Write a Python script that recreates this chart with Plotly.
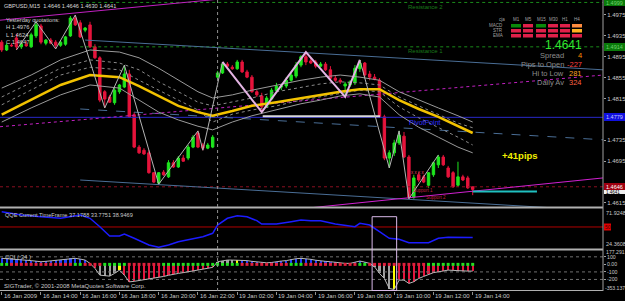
import plotly.graph_objects as go

# ---------------- data ----------------
bar_idx = list(range(97))

opens = [1.4923, 1.4908, 1.4917, 1.4931, 1.4914, 1.4919, 1.4914, 1.4935, 1.4954, 1.4921,
         1.4927, 1.4923, 1.4917, 1.4919, 1.4935, 1.4969, 1.4960, 1.4946, 1.4956, 1.4914,
         1.4893, 1.4828, 1.4818, 1.4807, 1.4828, 1.4837, 1.4862, 1.4784, 1.4722, 1.4716,
         1.4711, 1.4673, 1.4653, 1.4674, 1.4665, 1.4692, 1.4684, 1.4701, 1.4701, 1.4722,
         1.4749, 1.4726, 1.4720, 1.4722, 1.4856, 1.4864, 1.4881, 1.4875, 1.4872, 1.4885,
         1.4866, 1.4856, 1.4828, 1.4820, 1.4799, 1.4814, 1.4830, 1.4837, 1.4839, 1.4850,
         1.4858, 1.4879, 1.4895, 1.4887, 1.4885, 1.4877, 1.4881, 1.4870, 1.4854, 1.4850,
         1.4839, 1.4841, 1.4845, 1.4872, 1.4883, 1.4862, 1.4856, 1.4850, 1.4780, 1.4701,
         1.4711, 1.4730, 1.4743, 1.4703, 1.4626, 1.4669, 1.4665, 1.4649, 1.4669, 1.4688,
         1.4703, 1.4682, 1.4673, 1.4649, 1.4665, 1.4663, 1.4646]
highs = [1.4927, 1.4921, 1.4921, 1.4939, 1.4923, 1.4925, 1.4941, 1.4962, 1.4958, 1.4929,
         1.4931, 1.4927, 1.4927, 1.4935, 1.4973, 1.4975, 1.4965, 1.4952, 1.4962, 1.4919,
         1.4896, 1.4831, 1.4822, 1.4835, 1.4843, 1.4879, 1.4870, 1.4789, 1.4726, 1.4720,
         1.4716, 1.4674, 1.4674, 1.4678, 1.4697, 1.4697, 1.4705, 1.4707, 1.4726, 1.4745,
         1.4753, 1.4730, 1.4730, 1.4745, 1.4868, 1.4885, 1.4885, 1.4879, 1.4889, 1.4889,
         1.4870, 1.4860, 1.4831, 1.4826, 1.4820, 1.4835, 1.4845, 1.4843, 1.4856, 1.4864,
         1.4885, 1.4898, 1.4904, 1.4893, 1.4889, 1.4885, 1.4885, 1.4877, 1.4860, 1.4854,
         1.4847, 1.4850, 1.4879, 1.4889, 1.4885, 1.4868, 1.4862, 1.4854, 1.4784, 1.4716,
         1.4736, 1.4753, 1.4751, 1.4707, 1.4669, 1.4674, 1.4669, 1.4674, 1.4694, 1.4707,
         1.4707, 1.4686, 1.4676, 1.4694, 1.4669, 1.4667, 1.4646]
lows = [1.4904, 1.4906, 1.4914, 1.4908, 1.4910, 1.4914, 1.4912, 1.4931, 1.4919, 1.4917,
        1.4919, 1.4910, 1.4914, 1.4916, 1.4933, 1.4954, 1.4931, 1.4942, 1.4912, 1.4891,
        1.4808, 1.4797, 1.4807, 1.4803, 1.4824, 1.4835, 1.4778, 1.4720, 1.4709, 1.4707,
        1.4671, 1.4653, 1.4651, 1.4667, 1.4663, 1.4682, 1.4682, 1.4694, 1.4697, 1.4720,
        1.4720, 1.4716, 1.4718, 1.4720, 1.4852, 1.4862, 1.4875, 1.4870, 1.4870, 1.4864,
        1.4854, 1.4826, 1.4818, 1.4789, 1.4797, 1.4812, 1.4826, 1.4831, 1.4835, 1.4847,
        1.4854, 1.4875, 1.4879, 1.4881, 1.4873, 1.4875, 1.4868, 1.4852, 1.4847, 1.4843,
        1.4818, 1.4837, 1.4841, 1.4866, 1.4856, 1.4850, 1.4850, 1.4778, 1.4697, 1.4682,
        1.4705, 1.4726, 1.4701, 1.4623, 1.4623, 1.4655, 1.4653, 1.4644, 1.4665, 1.4682,
        1.4686, 1.4663, 1.4644, 1.4646, 1.4657, 1.4642, 1.4630]
closes = [1.4908, 1.4917, 1.4916, 1.4914, 1.4919, 1.4916, 1.4937, 1.4956, 1.4923, 1.4927,
          1.4921, 1.4917, 1.4923, 1.4933, 1.4969, 1.4956, 1.4933, 1.4950, 1.4914, 1.4893,
          1.4812, 1.4814, 1.4808, 1.4831, 1.4841, 1.4862, 1.4780, 1.4722, 1.4711, 1.4709,
          1.4673, 1.4655, 1.4673, 1.4669, 1.4692, 1.4684, 1.4701, 1.4695, 1.4722, 1.4741,
          1.4722, 1.4720, 1.4726, 1.4741, 1.4864, 1.4881, 1.4877, 1.4872, 1.4885, 1.4866,
          1.4856, 1.4828, 1.4822, 1.4799, 1.4816, 1.4831, 1.4839, 1.4839, 1.4850, 1.4860,
          1.4879, 1.4895, 1.4885, 1.4883, 1.4877, 1.4881, 1.4870, 1.4854, 1.4850, 1.4847,
          1.4843, 1.4847, 1.4873, 1.4883, 1.4860, 1.4856, 1.4852, 1.4780, 1.4701, 1.4711,
          1.4730, 1.4745, 1.4703, 1.4626, 1.4663, 1.4659, 1.4655, 1.4673, 1.4692, 1.4703,
          1.4688, 1.4665, 1.4646, 1.4665, 1.4659, 1.4644, 1.4641]

# moving average and bands (read at sample bars)
ma_idx = [0, 6, 12, 18, 24, 28, 32, 36, 40, 43, 47, 51, 56, 61, 65, 69, 73, 77, 81, 85, 89, 93, 96]
ma_yellow = [1.4784, 1.4812, 1.4841, 1.4860, 1.4856, 1.4839, 1.4820, 1.4801, 1.4789, 1.4782, 1.4791, 1.4801,
             1.4808, 1.4816, 1.4822, 1.4828, 1.4833, 1.4833, 1.4812, 1.4795, 1.4780, 1.4762, 1.4749]
band_up2 = [1.4835, 1.4860, 1.4889, 1.4908, 1.4904, 1.4893, 1.4873, 1.4850, 1.4828, 1.4816, 1.4822, 1.4831,
            1.4841, 1.4850, 1.4856, 1.4860, 1.4856, 1.4850, 1.4828, 1.4812, 1.4797, 1.4782, 1.4770]
band_up1 = [1.4818, 1.4845, 1.4873, 1.4889, 1.4883, 1.4870, 1.4847, 1.4828, 1.4808, 1.4801, 1.4808, 1.4816,
            1.4828, 1.4837, 1.4843, 1.4847, 1.4845, 1.4841, 1.4818, 1.4801, 1.4785, 1.4768, 1.4759]
band_lo1 = [1.4803, 1.4831, 1.4860, 1.4875, 1.4870, 1.4850, 1.4831, 1.4812, 1.4793, 1.4770, 1.4785, 1.4793,
            1.4801, 1.4812, 1.4818, 1.4824, 1.4831, 1.4828, 1.4799, 1.4778, 1.4760, 1.4741, 1.4726]
band_lo2 = [1.4770, 1.4797, 1.4822, 1.4841, 1.4835, 1.4812, 1.4789, 1.4774, 1.4762, 1.4755, 1.4770, 1.4782,
            1.4793, 1.4805, 1.4812, 1.4820, 1.4824, 1.4818, 1.4784, 1.4760, 1.4741, 1.4722, 1.4711]

# zigzags
zz1_idx = [3, 7, 11, 15, 21, 25, 32, 40, 41, 45]
zz1_p = [1.4908, 1.4962, 1.4910, 1.4975, 1.4797, 1.4879, 1.4651, 1.4753, 1.4716, 1.4885]
zz2_idx = [45, 53, 62, 70, 73]
zz2_p = [1.4885, 1.4789, 1.4904, 1.4818, 1.4889]
zz3_idx = [73, 79, 81, 83, 89]
zz3_p = [1.4889, 1.4682, 1.4753, 1.4623, 1.4707]

# trend lines (bar index, price)
mag_top_i, mag_top_p = [-0.35, 45.0], [1.4965, 1.5006]
mag_mid_i, mag_mid_p = [-0.35, 122.6], [1.4761, 1.4860]
mag_low_i, mag_low_p = [60.0, 122.6], [1.4603, 1.4663]
blu_top_i, blu_top_p = [17.0, 122.6], [1.4927, 1.4870]
blu_mid_i, blu_mid_p = [16.0, 122.6], [1.4795, 1.4736]
blu_low_i, blu_low_p = [16.0, 122.6], [1.4659, 1.4600]

# levels
res2 = 1.4999
res1 = 1.4914
pivot = 1.4779
white_lvl, white_i = 1.4781, [53.2, 77.1]
sup_lvl = 1.4646
cyan_lvl, cyan_i = 1.4637, [96.0, 109.1]

price_ticks = [1.4975, 1.4935, 1.4895, 1.4855, 1.4815, 1.4735, 1.4695, 1.4615]
time_tick_idx = [0, 8, 16, 24, 32, 40, 48, 56, 64, 72, 80, 88, 96]
time_tick_lbl = ["16 Jan 2009", "16 Jan 14:00", "16 Jan 16:00", "16 Jan 18:00", "16 Jan 20:00",
                 "16 Jan 22:00", "19 Jan 02:00", "19 Jan 04:00", "19 Jan 06:00", "19 Jan 08:00",
                 "19 Jan 10:00", "19 Jan 12:00", "19 Jan 14:00"]

# QQE
qqe_idx = [0, 4, 8, 12, 16, 18, 20, 22, 24, 25, 27, 30, 32, 34, 36, 39, 41, 43, 44, 46,
           48, 50, 52, 53, 56, 59, 61, 63, 65, 68, 72, 73, 75, 77, 79, 81, 83, 87, 89, 91, 96]
qqe_val = [68.6, 64.6, 62.5, 60.6, 64.6, 60.6, 50.3, 39.0, 39.0, 41.4, 36.2, 28.0, 25.2, 28.0, 32.0, 36.2,
           38.1, 42.3, 52.4, 60.6, 63.7, 62.5, 57.7, 53.6, 53.6, 56.4, 58.5, 57.7, 57.7, 53.6, 50.3, 54.5,
           52.4, 44.2, 36.2, 35.0, 30.8, 30.8, 36.2, 37.4, 37.2]
qqe_max, qqe_min, qqe_level = 71.9248, 24.3608, 50

# CCI(34)
cci_val = [80, 75, 70, 68, 67, 60, 50, 42, 35, 40, 48, 55, 57, 65, 78, 80, 70, 57, 13, -53,
           -143, -150, -156, -120, -76, -143, -232, -225, -215, -209, -195, -185, -173, -160, -145, -129,
           -120, -110, -99, -90, -76, -65, -53, -40, 35, 50, 57, 57, 57, 57, 50, 40, 35, 25, 21, 25, 30,
           44, 50, 67, 75, 80, 75, 67, 55, 44, 40, 35, 25, 13, 13, 13, 30, 44, 30, 13, -32, -120, -187,
           -320, -333, -209, -209, -253, -230, -187, -160, -130, -110, -99, -85, -76, -80, -85, -89, -89, -89]
cci_state = ("bbbbbbbbbbbbbbbbbb" "rr" "gggg" "y" "rrrrrrrrrrrrrrrrrrr" "gggg" "y"
             "bbbbbbbbbbbbbbbbbbbbbbbbbbb" "gggg" "y" "rrrrrrrrrrrrrrrr")
dot_state = ("gg" "rrrrrrrrrrrrr" "gg" "rrrr" "ggggg" "rrrrrrr" "gggggggggggggggg"
             "rrrrrrrrrr" "ggg" "rrrrrrrrrrr" "gg" "rrrrrrrrrrrr" "gggggggggg")
cci_max, cci_min = 177.291, -353.137
cci_levels = [100, -100, -200]

# info panel
tf_labels = ["M1", "M5", "M15", "M30", "H1", "H4"]
sig_rows = ["MACD", "STR", "EMA"]
sig_states = [["g", "r", "g", "r", "r", "o"], ["r", "r", "r", "r", "r", "y"], ["r", "r", "r", "r", "r", "r"]]

# ---------------- figure ----------------
W, H = 625, 301
def X(px): return px / W
def Y(py): return 1 - py / H

BULL, BEAR = "#1ee61e", "#e6143c"
FONT = "Liberation Sans"
TXT = "#c8c8c8"

fig = go.Figure()
fig.add_trace(go.Candlestick(x=bar_idx, open=opens, high=highs, low=lows, close=closes,
                             increasing=dict(line=dict(color=BULL, width=1), fillcolor=BULL),
                             decreasing=dict(line=dict(color=BEAR, width=1), fillcolor=BEAR),
                             whiskerwidth=0, hoverinfo="skip", showlegend=False))

def line(xs, ys, color, width=1, dash="solid", yaxis="y"):
    fig.add_trace(go.Scatter(x=xs, y=ys, mode="lines", line=dict(color=color, width=width, dash=dash),
                             hoverinfo="skip", showlegend=False, yaxis=yaxis))

# levels & trend lines
line([16, 122.6], [res2, res2], "#1a8a1a", 1, "dot")
line([16, 122.6], [res1, res1], "#1a8a1a", 1, "dot")
line([-0.35, 122.6], [sup_lvl, sup_lvl], "#8b1020", 1, "dot")
line([-0.35, 122.6], [pivot, pivot], "#2828c8", 1)
line(white_i, [white_lvl, white_lvl], "#d8d8d8", 2)
line(blu_top_i, blu_top_p, "#4a6e96", 1)
line(blu_mid_i, blu_mid_p, "#4a6e96", 1, "dash")
line(blu_low_i, blu_low_p, "#4a6e96", 1)
line(mag_top_i, mag_top_p, "#c020c0", 1)
line(mag_mid_i, mag_mid_p, "#c020c0", 1, "dot")
line(mag_low_i, mag_low_p, "#d020d0", 1)
line(cyan_i, [cyan_lvl, cyan_lvl], "#20c0c0", 2)

# bands + MA
line(ma_idx, band_up2, "#9a9a9a", 1)
line(ma_idx, band_up1, "#8a8a8a", 1, "dot")
line(ma_idx, band_lo1, "#8a8a8a", 1, "dot")
line(ma_idx, band_lo2, "#9a9a9a", 1)
line(ma_idx, ma_yellow, "#f2c200", 2.5)

# zigzags
line(zz1_idx, zz1_p, "#b4b4b4", 1)
line(zz2_idx, zz2_p, "#e4b4e4", 2)
line(zz3_idx, zz3_p, "#b4b4b4", 1)

# QQE
line([-0.35, 122.6], [qqe_level, qqe_level], "#b00000", 1, yaxis="y2")
line(qqe_idx, qqe_val, "#1c1cff", 1.5, yaxis="y2")

# CCI
cmap = {"b": "#2040ff", "r": BEAR, "g": "#a0a0a0", "y": "#ffff00"}
for lv in cci_levels:
    line([-0.35, 122.6], [lv, lv], "#707070", 1, "dot", yaxis="y3")
fig.add_trace(go.Bar(x=bar_idx, y=cci_val, width=0.45, marker=dict(color=[cmap[c] for c in cci_state], line=dict(width=0)),
                     yaxis="y3", hoverinfo="skip", showlegend=False))
line(bar_idx, cci_val, "#b8b8b8", 1, yaxis="y3")
dmap = {"g": "#20e020", "r": "#e0203c"}
fig.add_trace(go.Scatter(x=bar_idx, y=[0] * len(bar_idx), mode="markers", yaxis="y3",
                         marker=dict(symbol="square", size=3, color=[dmap[c] for c in dot_state], line=dict(width=0)),
                         hoverinfo="skip", showlegend=False))

shapes = []
anns = []

def text(px, py, s, color=TXT, size=6, xa="left", ya="middle", bold=False):
    anns.append(dict(x=X(px), y=Y(py), xref="paper", yref="paper", text=("<b>%s</b>" % s) if bold else s,
                     showarrow=False, xanchor=xa, yanchor=ya, borderpad=0,
                     font=dict(family=FONT, size=size, color=color)))

def rect(x0, y0, x1, y1, fill):
    shapes.append(dict(type="rect", xref="paper", yref="paper", x0=X(x0), x1=X(x1), y0=Y(y1), y1=Y(y0),
                       fillcolor=fill, line=dict(width=0), layer="above"))

# panel separators / frame
for py, wdt in [(207.5, 2), (249.5, 2), (290.5, 1)]:
    shapes.append(dict(type="line", xref="paper", yref="paper", x0=0, x1=X(603), y0=Y(py), y1=Y(py),
                       line=dict(color="#b0b0b0", width=wdt)))
shapes.append(dict(type="line", xref="paper", yref="paper", x0=X(603), x1=X(603), y0=Y(291), y1=1,
                   line=dict(color="#a0a0a0", width=1)))
shapes.append(dict(type="line", xref="x", yref="paper", x0=44, x1=44, y0=Y(291), y1=1,
                   line=dict(color="#909090", width=1, dash="dot")))
shapes.append(dict(type="rect", xref="x", yref="paper", x0=75.5, x1=80.5, y0=Y(290.5), y1=Y(216.7),
                   line=dict(color="#d8b8e8", width=1)))

# main text
text(3, 6.5, "GBPUSD,M15  1.4646 1.4646 1.4630 1.4641", "#d8d8d8", 5.6)
text(5, 20, "Yesterday quotations:", "#d0d0d0", 5.6)
text(5, 27.5, "H 1.4976", "#d0d0d0", 5.8)
text(5, 35, "L 1.4624", "#d0d0d0", 5.8)
text(5, 42.5, "C 1.4647", "#d0d0d0", 5.8)
text(407, 7, "Resistance 2", "#1a7a1a", 6)
text(407, 51, "Resistance 1", "#1a7a1a", 6)
text(408, 122, "PivotPoint", "#3030ff", 7)
text(519.5, 155, "+41pips", "#f0f000", 9.5, xa="center", bold=True)
text(418, 172.5, "x x x x", "#e04060", 4.5, xa="center")
text(423, 190, "Support 1", "#c02040", 4.5, xa="center")
text(436, 197.5, "Support 2", "#c02040", 4.5, xa="center")

# info panel
text(501.5, 20, "cja", "#a0a0a0", 4.5, xa="center")
box_x = [511, 523, 536, 548, 560, 572]
for k, lbl in enumerate(tf_labels):
    text(box_x[k] + 5, 20, lbl, "#a0a0a0", 4.5, xa="center")
scol = {"g": "#0a8a0a", "r": "#e0204a", "o": "#ff8c40", "y": "#ffb020"}
for r, row in enumerate(sig_rows):
    yy = 24 + 5 * r
    text(504, yy + 1.8, row, "#a0a0a0", 4.5, xa="right")
    for k, st in enumerate(sig_states[r]):
        rect(box_x[k], yy, box_x[k] + 10, yy + 3.5, scol[st])
text(583, 45, "1.4641", "#30e830", 12, xa="right")
stats = [("Spread", "4", "#ff8c00", 55.7), ("Pips to Open", "-227", "#ff4040", 64.3),
         ("Hi to Low", "281", "#ffa020", 73.3), ("Daily Av", "324", "#ff6040", 82.7)]
for lbl, val, col, yy in stats:
    text(565, yy, lbl, "#8c8c8c", 7.5, xa="right")
    text(583, yy, val, col, 7.5, xa="right")

# price-axis boxes
rect(604, 0, 625, 6, "#0a7a0a"); text(605, 3, "1.4999", "#70d070", 5.5)
rect(604, 43, 625, 51, "#0a7a0a"); text(605, 47, "1.4914", "#70d070", 5.5)
rect(604, 113, 625, 121, "#1010e0"); text(605, 117, "1.4779", "#c8c8ff", 5.5)
rect(604, 183, 625, 190, "#a00010"); text(605, 186.5, "1.4646", "#ffffff", 5.5)
rect(604, 190, 625, 194, "#f0f0f0"); text(605, 192, "1.4641", "#000000", 4.5)

# QQE texts
text(4, 215, "QQE Current TimeFrame 37.1788 33.7751 38.9469", TXT, 5.6)
text(604.5, 213, "71.9248", TXT, 5.5)
text(604.5, 244, "24.3608", TXT, 5.5)
rect(604, 223.5, 611, 230.5, "#e00000"); text(607.5, 227, "50", "#400000", 5, xa="center")
# CCI texts
text(4, 257, "CCI ( 34 )", TXT, 6)
text(3, 286, "SIGTrader, © 2001-2008 MetaQuotes Software Corp.", TXT, 6)
text(604.5, 251.8, "177.291", TXT, 5.2)
text(604, 287.5, "-353.137", TXT, 5.1)

# time labels
for i, lbl in zip(time_tick_idx, time_tick_lbl):
    anns.append(dict(x=i, y=Y(296), xref="x", yref="paper", text=lbl, showarrow=False,
                     xanchor="left", yanchor="middle", font=dict(family=FONT, size=6, color=TXT)))

fig.update_layout(
    width=W, height=H, margin=dict(l=0, r=0, t=0, b=0),
    paper_bgcolor="black", plot_bgcolor="black", showlegend=False, bargap=0,
    xaxis=dict(domain=[0, X(603)], range=[-0.35, 122.56], anchor="y3", showgrid=False, zeroline=False,
               tickvals=time_tick_idx, ticks="outside", ticklen=3, tickcolor="#909090", showticklabels=False,
               rangeslider=dict(visible=False), fixedrange=True),
    yaxis=dict(domain=[Y(207), 1], range=[1.46073, 1.50037], side="right", anchor="x", showgrid=False,
               zeroline=False, tickvals=price_ticks, ticktext=["%.4f" % v for v in price_ticks],
               ticks="outside", ticklen=2, tickcolor="#a0a0a0", tickfont=dict(family=FONT, size=6, color=TXT)),
    yaxis2=dict(domain=[Y(248), Y(209)], range=[qqe_min, qqe_max], anchor="x", showgrid=False, zeroline=False,
                showticklabels=False),
    yaxis3=dict(domain=[Y(291), Y(251)], range=[cci_min, cci_max], side="right", anchor="x", showgrid=False,
                zeroline=False, tickvals=[100, 0, -100, -200], ticktext=["100", "0.00", "-100", "-200"],
                ticks="outside", ticklen=2, tickcolor="#a0a0a0", tickfont=dict(family=FONT, size=5.2, color=TXT)),
    shapes=shapes, annotations=anns,
)
fig.write_html("out.html")
